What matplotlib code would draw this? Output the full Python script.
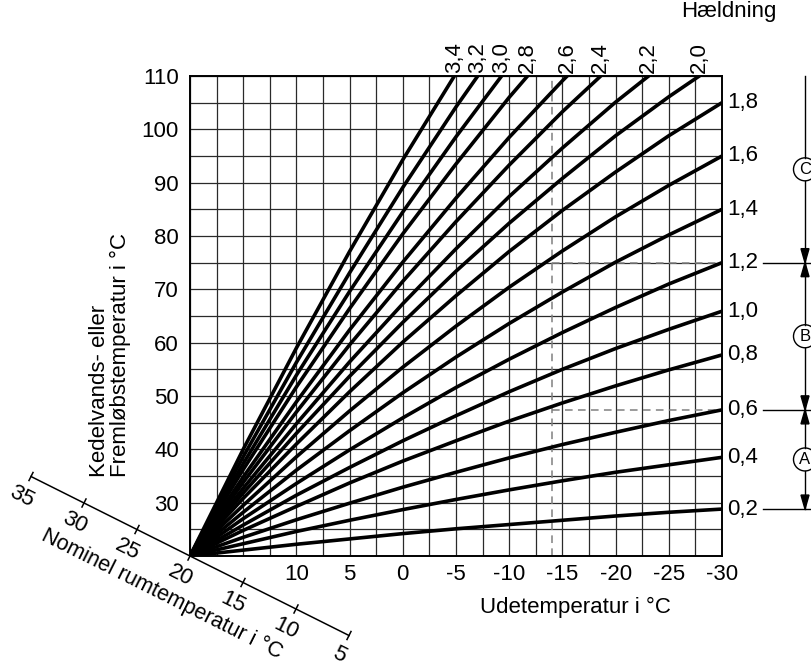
import numpy as np
import matplotlib
matplotlib.use('Agg')
import matplotlib.pyplot as plt
from matplotlib import patches
from matplotlib.lines import Line2D
from matplotlib.transforms import IdentityTransform

plt.rcParams['font.family'] = ['Liberation Sans', 'DejaVu Sans']
plt.rcParams['font.size'] = 16

outdoor = [20, 15, 10, 5, 0, -5, -10, -15, -20, -25, -30]
slope_labels = ['0,2', '0,4', '0,6', '0,8', '1,0', '1,2', '1,4', '1,6', '1,8',
                '2,0', '2,2', '2,4', '2,6', '2,8', '3,0', '3,2', '3,4']
# flow temperature per slope (steep ones leave the chart at the top)
flow_temps = [
    [20, 21.1, 22.2, 23.2, 24.2, 25.1, 25.9, 26.7, 27.5, 28.2, 28.8],
    [20, 22.3, 24.6, 26.7, 28.7, 30.6, 32.4, 34.1, 35.7, 37.1, 38.5],
    [20, 23.5, 26.8, 29.9, 32.9, 35.7, 38.4, 40.9, 43.2, 45.4, 47.4],
    [20, 24.8, 29.3, 33.7, 37.8, 41.6, 45.3, 48.7, 51.9, 54.9, 57.7],
    [20, 25.8, 31.4, 36.6, 41.6, 46.3, 50.8, 55.0, 58.9, 62.5, 65.9],
    [20, 27.0, 33.6, 39.9, 45.9, 51.6, 56.9, 61.9, 66.6, 71.0, 75.0],
    [20, 28.2, 36.1, 43.5, 50.6, 57.3, 63.6, 69.5, 75.1, 80.2, 85.0],
    [20, 29.5, 38.6, 47.2, 55.4, 63.1, 70.4, 77.2, 83.6, 89.5, 95.0],
    [20, 30.8, 41.0, 50.8, 60.1, 68.8, 77.1, 84.8, 92.0, 98.8, 105.0],
    [20, 31.8, 43.0, 53.7, 63.8, 73.4, 82.4, 90.8, 98.8, 106.1, 112.9],
    [20, 32.7, 44.8, 56.4, 67.3, 77.6, 87.4, 96.5, 105.1, 113.0],
    [20, 33.8, 47.0, 59.6, 71.5, 82.7, 93.3, 103.3, 112.6],
    [20, 34.8, 48.9, 62.4, 75.1, 87.1, 98.5, 109.1, 119.1],
    [20, 36.2, 51.7, 66.4, 80.4, 93.5, 106.0, 117.6],
    [20, 37.3, 53.9, 69.6, 84.5, 98.6, 111.9],
    [20, 38.6, 56.3, 73.1, 89.1, 104.2, 118.4],
    [20, 40.0, 59.0, 77.1, 94.3, 110.5],
]
x_ticks = [10, 5, 0, -5, -10, -15, -20, -25, -30]
y_ticks = [30, 40, 50, 60, 70, 80, 90, 100, 110]
room_temps = [35, 30, 25, 20, 15, 10, 5]
range_letters = ['C', 'B', 'A']
range_limits = ['1,2', '0,6', '0,2']
example_outdoor = -14
example_flow = [75, 47.4]

W, H = 811, 669
fig = plt.figure(figsize=(W / 100, H / 100), dpi=100)
ax = fig.add_axes([190 / W, 113 / H, 532 / W, 480 / H])
ax.set_xlim(20, -30)
ax.set_ylim(20, 110)
ax.set_xticks(x_ticks)
ax.set_xticklabels([str(v) for v in x_ticks])
ax.set_yticks(y_ticks)
ax.set_xticks(np.arange(20, -30.1, -2.5), minor=True)
ax.set_yticks(np.arange(20, 110.1, 5), minor=True)
ax.tick_params(which='both', length=0)
ax.tick_params(axis='x', pad=6)
ax.tick_params(axis='y', pad=8)
ax.grid(True, which='both', color='#2a2a2a', lw=0.9)
ax.set_axisbelow(True)
for s in ax.spines.values():
    s.set_linewidth(1.4)

# dashed example lines
dash = dict(ls=(0, (5, 3.5)), color='#808080', lw=1.1, zorder=2)
ax.plot([example_outdoor, example_outdoor], [20, 110], **dash)
for fy in example_flow:
    ax.plot([example_outdoor, -30], [fy, fy], **dash)

# heating curves
end_y = {}
for lab, temps in zip(slope_labels, flow_temps):
    xs = outdoor[:len(temps)]
    ax.plot(xs, temps, color='black', lw=2.6, solid_capstyle='butt',
            solid_joinstyle='round', zorder=3)
    if len(temps) == len(outdoor) and temps[-1] <= 110:
        end_y[lab] = temps[-1]
        ax.annotate(lab, (xs[-1], temps[-1]), xytext=(5, 0), textcoords='offset pixels',
                    ha='left', va='center', annotation_clip=False)
    else:
        xc = np.interp(110, temps, xs)
        ax.annotate(lab, (xc, 110), xytext=(0, 3), textcoords='offset pixels',
                    rotation=90, ha='center', va='bottom', annotation_clip=False)

pix = IdentityTransform()
fig.text(729, H - 12, 'Hældning', ha='center', va='center', transform=pix)
fig.text(110, H - 477, 'Kedelvands- eller\nFremløbstemperatur i °C', rotation=90,
         ha='center', va='bottom', multialignment='left', linespacing=1.0, transform=pix)
fig.text(575, H - 607, 'Udetemperatur i °C', ha='center', va='center', transform=pix)

# slanted room temperature scale through the origin
ox, oy = ax.transData.transform((20, 20))
step = np.array([53.0, -26.5])
nrm = np.array([0.447, 0.894])
def room_pos(t):
    return np.array([ox, oy]) + (20 - t) / 5 * step
p0, p1 = room_pos(room_temps[0]), room_pos(room_temps[-1])
fig.add_artist(Line2D([p0[0], p1[0]], [p0[1], p1[1]], color='black', lw=1.1, transform=pix))
for t in room_temps:
    p = room_pos(t)
    a, b = p - 4.5 * nrm, p + 4.5 * nrm
    fig.add_artist(Line2D([a[0], b[0]], [a[1], b[1]], color='black', lw=1.1, transform=pix))
    q = p - 22 * nrm
    fig.text(q[0], q[1], str(t), rotation=-26.6, rotation_mode='anchor',
             ha='center', va='center', transform=pix)
fig.text(162, H - 594, 'Nominel rumtemperatur i °C', rotation=-26.6, rotation_mode='anchor',
         ha='center', va='center', fontsize=15.5, transform=pix)

# range markers A, B, C on the right
vx = 805
bounds = [ax.transData.transform((-30, 110))[1]]
bounds += [ax.transData.transform((-30, end_y[l]))[1] for l in range_limits]
for l in range_limits:
    yy = ax.transData.transform((-30, end_y[l]))[1]
    fig.add_artist(Line2D([763, W], [yy, yy], color='black', lw=1.0, transform=pix))

def arrow_head(y, down):
    d = 14 if down else -14
    tri = patches.Polygon([[vx, y], [vx - 4, y + d], [vx + 4, y + d]], closed=True,
                          color='black', transform=pix)
    fig.add_artist(tri)

r = 11.5
for i, letter in enumerate(range_letters):
    yt, yb = bounds[i], bounds[i + 1]
    yc = (yt + yb) / 2
    fig.add_artist(Line2D([vx, vx], [yt, yc + r], color='black', lw=1.0, transform=pix))
    fig.add_artist(Line2D([vx, vx], [yc - r, yb], color='black', lw=1.0, transform=pix))
    fig.add_artist(patches.Circle((vx, yc), r, fill=False, ec='black', lw=1.0, transform=pix))
    fig.text(vx, yc, letter, ha='center', va='center', fontsize=12, transform=pix)
    arrow_head(yb, True)
    if i > 0:
        arrow_head(yt, False)

fig.savefig('out.png', dpi=100)
